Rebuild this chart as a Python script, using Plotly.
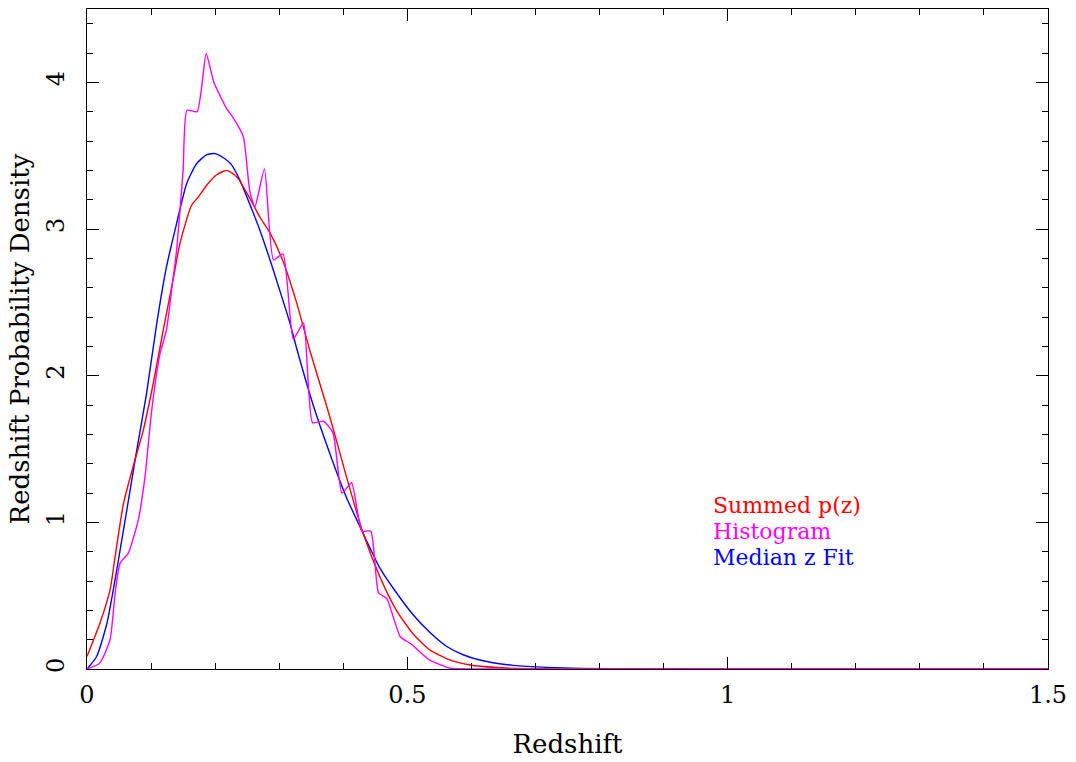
import plotly.graph_objects as go

# Summed p(z) (red)
sum_z = [0.0, 0.02, 0.036, 0.044, 0.057, 0.072, 0.088, 0.1035, 0.119, 0.135, 0.145, 0.163, 0.174,
         0.189, 0.2025, 0.218, 0.234, 0.254, 0.270, 0.286, 0.306, 0.327, 0.348, 0.379, 0.405,
         0.431, 0.457, 0.483, 0.509, 0.535, 0.567, 0.598, 0.639, 0.69, 0.75, 1.0, 1.5]
sum_p = [0.085, 0.31, 0.54, 0.77, 1.13, 1.38, 1.63, 1.95, 2.31, 2.67, 2.90, 3.16, 3.22,
         3.31, 3.37, 3.40, 3.355, 3.21, 3.08, 2.97, 2.78, 2.50, 2.17, 1.72, 1.31,
         0.925, 0.63, 0.40, 0.24, 0.13, 0.06, 0.027, 0.01, 0.002, 0.0, 0.0, 0.0]

# Histogram (magenta)
hist_z = [0.0, 0.02, 0.036, 0.044, 0.0515, 0.0645, 0.080, 0.0905, 0.101, 0.114, 0.124, 0.132,
          0.140, 0.150, 0.156, 0.172, 0.186, 0.198, 0.218, 0.228, 0.244, 0.254, 0.262, 0.277,
          0.291, 0.306, 0.322, 0.338, 0.352, 0.369, 0.384, 0.398, 0.413, 0.429, 0.443, 0.455,
          0.468, 0.489, 0.506, 0.535, 0.567, 0.6, 1.0, 1.5]
hist_p = [0.0, 0.04, 0.2, 0.52, 0.72, 0.79, 1.015, 1.31, 1.765, 2.15, 2.31, 2.58,
          2.86, 3.4, 3.81, 3.80, 4.195, 4.0, 3.82, 3.76, 3.63, 3.26, 3.15, 3.41,
          2.79, 2.83, 2.25, 2.36, 1.68, 1.69, 1.61, 1.20, 1.27, 0.94, 0.94, 0.52,
          0.48, 0.22, 0.17, 0.06, 0.005, 0.0, 0.0, 0.0]

# Median z fit (blue)
fit_z = [0.0, 0.015, 0.031, 0.0464, 0.062, 0.0776, 0.093, 0.109, 0.124, 0.140, 0.1556, 0.171,
         0.187, 0.200, 0.213, 0.2246, 0.239, 0.254, 0.270, 0.2856, 0.301, 0.317, 0.327, 0.353,
         0.379, 0.405, 0.431, 0.457, 0.483, 0.509, 0.535, 0.561, 0.587, 0.613, 0.639, 0.665,
         0.718, 0.77, 0.85, 1.0, 1.5]
fit_p = [0.0, 0.085, 0.31, 0.675, 1.08, 1.49, 1.88, 2.36, 2.74, 3.04, 3.31, 3.445,
         3.507, 3.514, 3.486, 3.444, 3.33, 3.17, 2.99, 2.79, 2.58, 2.355, 2.19, 1.80,
         1.47, 1.17, 0.925, 0.69, 0.52, 0.37, 0.25, 0.155, 0.097, 0.061, 0.039, 0.025,
         0.011, 0.003, 0.0005, 0.0, 0.0]

legend_labels = ["Summed p(z)", "Histogram", "Median z Fit"]
legend_colors = ["#ff0000", "#ff00ff", "#0000ff"]
legend_y = [1.115, 0.938, 0.761]

x_ticks = [0, 0.5, 1, 1.5]
x_ticktext = ["0", "0.5", "1", "1.5"]
y_ticks = [0, 1, 2, 3, 4]
y_ticktext = ["0", "1", "2", "3", "4"]

FONT = "DejaVu Serif"

fig = go.Figure()
fig.add_trace(go.Scatter(x=fit_z, y=fit_p, mode="lines",
                         line=dict(color="#0000ff", width=1.4, shape="spline", smoothing=0.6)))
fig.add_trace(go.Scatter(x=sum_z, y=sum_p, mode="lines",
                         line=dict(color="#ff0000", width=1.4, shape="spline", smoothing=0.6)))
fig.add_trace(go.Scatter(x=hist_z, y=hist_p, mode="lines",
                         line=dict(color="#ff00ff", width=1.4, shape="spline", smoothing=0.5)))

for lab, col, yy in zip(legend_labels, legend_colors, legend_y):
    fig.add_annotation(x=0.9755, y=yy, xref="x", yref="y", text=lab, showarrow=False,
                       xanchor="left", yanchor="middle", borderpad=0,
                       font=dict(family=FONT, size=22, color=col))

axis_common = dict(showline=True, linecolor="black", linewidth=1.2, mirror="allticks",
                   ticks="inside", ticklen=12, tickwidth=1, tickcolor="black",
                   showgrid=False, zeroline=False,
                   tickfont=dict(family=FONT, size=24, color="black"))

fig.update_xaxes(range=[0, 1.5], tickvals=x_ticks, ticktext=x_ticktext,
                 minor=dict(dtick=0.1, tick0=0, ticks="inside", ticklen=6, tickcolor="black", showgrid=False),
                 title=dict(text="Redshift", font=dict(family=FONT, size=26, color="black"), standoff=26),
                 ticklabelstandoff=4, **axis_common)
fig.update_yaxes(range=[0, 4.5], tickvals=y_ticks, ticktext=y_ticktext, tickangle=-90,
                 minor=dict(dtick=0.2, tick0=0, ticks="inside", ticklen=6, tickcolor="black", showgrid=False),
                 title=dict(text="Redshift Probability Density", font=dict(family=FONT, size=26, color="black"), standoff=5),
                 ticklabelstandoff=12, **axis_common)

fig.update_layout(width=1076, height=762, showlegend=False,
                  plot_bgcolor="white", paper_bgcolor="white",
                  margin=dict(l=87, r=28, t=9, b=93))

fig.write_html("out.html")
